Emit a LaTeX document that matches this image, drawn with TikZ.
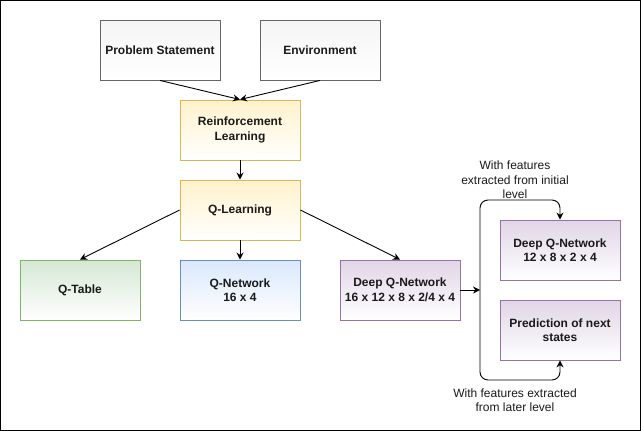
\documentclass[tikz,border=0pt]{standalone}
\usepackage{fontspec}
\setmainfont{Liberation Sans}
\usetikzlibrary{arrows.meta}
\definecolor{grayF}{HTML}{F5F5F5}\definecolor{grayS}{HTML}{666666}
\definecolor{yelF}{HTML}{FFF2CC}\definecolor{yelS}{HTML}{D6B656}
\definecolor{grnF}{HTML}{D5E8D4}\definecolor{grnS}{HTML}{82B366}
\definecolor{bluF}{HTML}{DAE8FC}\definecolor{bluS}{HTML}{6C8EBF}
\definecolor{purF}{HTML}{E1D5E7}\definecolor{purS}{HTML}{9673A6}
\definecolor{txt}{HTML}{1A1A1A}
\tikzset{
  box/.style={rectangle, minimum width=120pt, minimum height=60pt, inner sep=0pt, line width=0.9pt,
    align=center, font=\fontsize{12}{14.5}\selectfont\bfseries, text=txt, bottom color=white},
  grayb/.style={box, draw=grayS, top color=grayF},
  yelb/.style={box, draw=yelS, top color=yelF},
  grnb/.style={box, draw=grnS, top color=grnF},
  blub/.style={box, draw=bluS, top color=bluF},
  purb/.style={box, draw=purS, top color=purF},
  arr/.style={-{Stealth[length=7pt,width=7pt]}, line width=0.9pt, black},
  lbl/.style={align=center, font=\fontsize{12}{14.5}\selectfont, text=txt, inner sep=0pt}
}
\begin{document}
\begin{tikzpicture}[x=1pt,y=-1pt]
\useasboundingbox (0,0) rectangle (641,431);
\draw[line width=1pt] (0.5,0.5) rectangle (640.5,430.5);
\node[grayb] (ps) at (160,50) {Problem Statement};
\node[grayb] (env) at (320,50) {Environment};
\node[yelb] (rl) at (240,130) {Reinforcement\\Learning};
\node[yelb] (ql) at (240,210) {Q-Learning};
\node[grnb] (qt) at (80,290) {Q-Table};
\node[blub] (qn) at (240,290) {Q-Network\\16 x 4};
\node[purb] (dqn) at (400,290) {Deep Q-Network\\16 x 12 x 8 x 2/4 x 4};
\node[purb] (dqn2) at (560,250) {Deep Q-Network\\12 x 8 x 2 x 4};
\node[purb] (pred) at (560,330) {Prediction of next\\states};
\node[lbl] (ltop) at (515,180) {With features\\extracted from initial\\level};
\node[lbl] (lbot) at (515,400) {With features extracted\\from later level};
\coordinate (br) at (480,290);
\coordinate (tl) at (480,200);
\coordinate (bl) at (480,380);
\draw[arr] (ps.south) -- (rl.north);
\draw[arr] (env.south) -- (rl.north);
\draw[arr] (rl.south) -- (ql.north);
\draw[arr] (ql.west) -- (qt.north);
\draw[arr] (ql.south) -- (qn.north);
\draw[arr] (ql.east) -- (dqn.north);
\draw[arr] (dqn.east) -- (br);
\draw[arr, rounded corners=8pt] (br) -- (tl) -| (dqn2.north);
\draw[arr, rounded corners=8pt] (br) -- (bl) -| (pred.south);
\end{tikzpicture}
\end{document}
